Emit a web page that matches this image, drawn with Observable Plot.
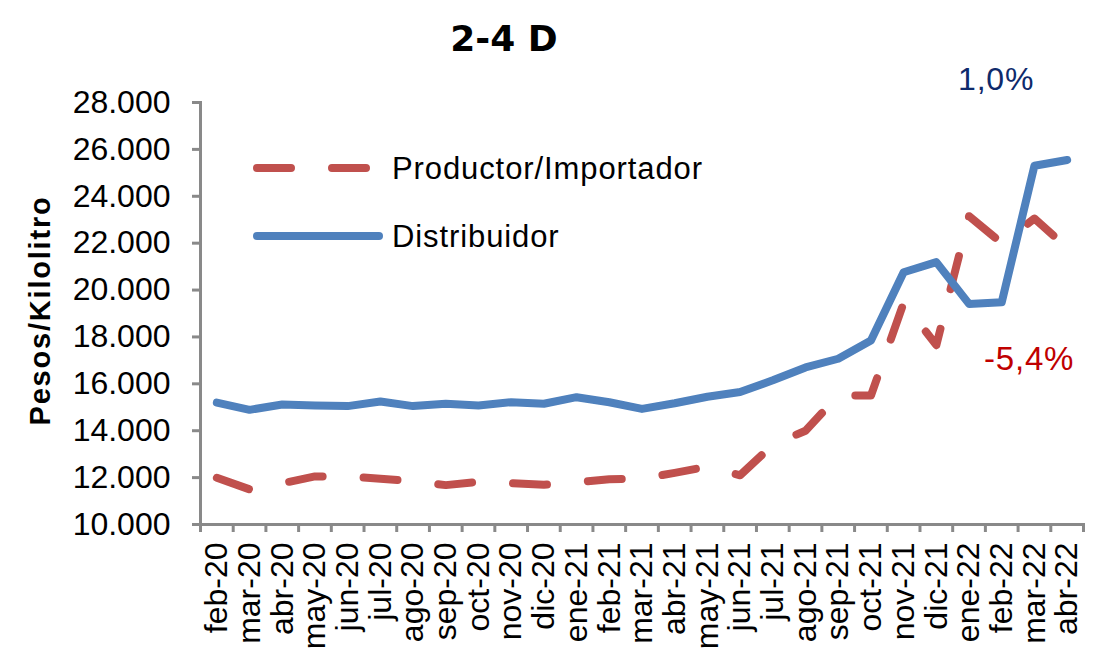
<!DOCTYPE html>
<html>
<head>
<meta charset="utf-8">
<script src="https://cdn.jsdelivr.net/npm/d3@7"></script>
<script src="https://cdn.jsdelivr.net/npm/@observablehq/plot@0.6"></script>
<style>
html, body { margin: 0; padding: 0; background: #fff; }
body { width: 1098px; height: 651px; position: relative; overflow: hidden; font-family: "Liberation Sans", Arial, sans-serif; }
#title { position: absolute; left: 504px; top: 19px; transform: translateX(-50%); font-family: "DejaVu Sans", sans-serif; font-size: 36px; font-weight: bold; line-height: 40px; white-space: nowrap; color: #000; }
#chart { position: absolute; left: 0; top: 55px; }
#legend { position: absolute; left: 0; top: 0; pointer-events: none; }
</style>
</head>
<body>
<div id="title">2-4 D</div>
<div id="chart"></div>
<svg id="legend" width="1098" height="651" xmlns="http://www.w3.org/2000/svg" font-family="Liberation Sans, Arial, sans-serif" font-size="31" letter-spacing="0.9">
  <line x1="257" y1="168" x2="366" y2="168" stroke="#C0504D" stroke-width="8" stroke-linecap="round" stroke-dasharray="34 41"/>
  <text x="392" y="168" dy="0.35em" fill="#000">Productor/Importador</text>
  <line x1="257" y1="236" x2="379" y2="236" stroke="#4F81BD" stroke-width="8" stroke-linecap="round"/>
  <text x="392" y="236" dy="0.35em" fill="#000">Distribuidor</text>
</svg>
<script>
const months = ["feb-20","mar-20","abr-20","may-20","jun-20","jul-20","ago-20","sep-20","oct-20","nov-20","dic-20","ene-21","feb-21","mar-21","abr-21","may-21","jun-21","jul-21","ago-21","sep-21","oct-21","nov-21","dic-21","ene-22","feb-22","mar-22","abr-22"];
const productor = [11990, 11500, 11760, 12050, 12060, 11950, 11850, 11680, 11820, 11760, 11700, 11800, 11930, 11960, 12200, 12470, 12100, 13400, 14000, 15500, 15500, 19450, 17650, 23150, 22000, 23050, 21800];
const distribuidor = [15200, 14890, 15120, 15080, 15050, 15250, 15050, 15150, 15080, 15215, 15150, 15430, 15215, 14930, 15170, 15450, 15650, 16150, 16700, 17070, 17850, 20760, 21190, 19410, 19480, 25300, 25550];
const yTicks = [10000, 12000, 14000, 16000, 18000, 20000, 22000, 24000, 26000, 28000];

const loc = d3.formatLocale({decimal: ",", thousands: ".", grouping: [3], currency: ["$", ""], minus: "-"});
const fmtNum = loc.format(",d");
const fmtPct = loc.format(".1%");

const prodRows = months.map((m, i) => ({i: i + 0.5, month: m, value: productor[i]}));
const distRows = months.map((m, i) => ({i: i + 0.5, month: m, value: distribuidor[i]}));
const n = months.length;
const lastProd = {...prodRows[n - 1], label: fmtPct(productor[n - 1] / productor[n - 2] - 1)};
const lastDist = {...distRows[n - 1], label: fmtPct(distribuidor[n - 1] / distribuidor[n - 2] - 1)};

const axisGray = "#898989";

const chart = Plot.plot({
  width: 1098,
  height: 596,
  marginTop: 47,
  marginBottom: 127,
  marginLeft: 200,
  marginRight: 15,
  style: {fontFamily: "Liberation Sans, Arial, sans-serif", fontSize: "32px", color: "#000", background: "#fff", overflow: "visible"},
  x: {type: "linear", domain: [0, n]},
  y: {type: "linear", domain: [10000, 28000]},
  marks: [
    Plot.axisY({ticks: yTicks, tickFormat: fmtNum, tickSize: 8, tickPadding: 22, stroke: axisGray, strokeWidth: 3, fill: "#000", fontSize: 32, label: null}),
    Plot.axisX({ticks: d3.range(0, n + 1), tickSize: 8, stroke: axisGray, strokeWidth: 3, text: null, label: null}),
    Plot.axisX({ticks: months.map((m, i) => i + 0.5), tickFormat: v => months[Math.floor(v)], tickSize: 0, tickPadding: 18, tickRotate: -90, fill: "#000", fontSize: 32, label: null}),
    Plot.frame({anchor: "left", stroke: axisGray, strokeWidth: 3}),
    Plot.frame({anchor: "bottom", stroke: axisGray, strokeWidth: 3}),
    Plot.line(prodRows, {x: "i", y: "value", stroke: "#C0504D", strokeWidth: 8, strokeDasharray: "34,41", strokeLinecap: "round", strokeLinejoin: "round"}),
    Plot.line(distRows, {x: "i", y: "value", stroke: "#4F81BD", strokeWidth: 8, strokeLinecap: "round", strokeLinejoin: "round"}),
    Plot.text([lastDist], {x: "i", y: "value", text: "label", dx: -71, dy: -80, fill: "#0E2A6B", fontSize: 32}),
    Plot.text([lastProd], {x: "i", y: "value", text: "label", dx: -38, dy: 112, fill: "#C00000", fontSize: 33}),
    Plot.text(["Pesos/Kilolitro"], {frameAnchor: "left", textAnchor: "middle", rotate: -90, dx: -160, dy: -3, fontWeight: "bold", fontSize: 29, fill: "#000"})
  ]
});
document.getElementById("chart").appendChild(chart);

// fine typography tweaks (letter spacing) on library-rendered text
const svgSel = d3.select(chart);
svgSel.selectAll("text").each(function() {
  const t = this.textContent;
  if (t === "Pesos/Kilolitro") d3.select(this).style("letter-spacing", "1.8px");
  if (t.endsWith("%")) d3.select(this).style("letter-spacing", "0.8px");
});
</script>
</body>
</html>
